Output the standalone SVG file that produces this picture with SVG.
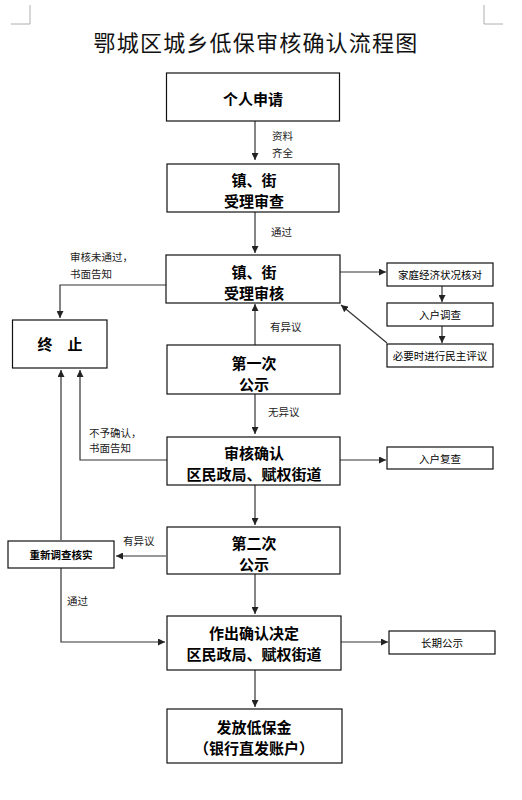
<svg xmlns="http://www.w3.org/2000/svg" width="522" height="800" viewBox="0 0 522 800">
<defs>
<marker id="ah" viewBox="0 0 10 10" refX="10" refY="5" markerWidth="7" markerHeight="7" markerUnits="userSpaceOnUse" orient="auto">
<path d="M0,0 L10,5 L0,10 z" fill="#222"/>
</marker>
<style>
.box{fill:#fff;stroke:#111;stroke-width:1.2}
.bt{font-family:"Noto Sans CJK SC","Noto Sans",sans-serif;font-weight:bold;font-size:15px;fill:#000;text-anchor:middle;dominant-baseline:central}
.st{font-family:"Noto Sans CJK SC","Noto Sans",sans-serif;font-size:10.5px;fill:#000;text-anchor:middle;dominant-baseline:central}
.lb{font-family:"Noto Sans CJK SC","Noto Sans",sans-serif;font-size:10.5px;fill:#222;dominant-baseline:central}
.cn{fill:none;stroke:#333;stroke-width:1.2;marker-end:url(#ah)}
.crop{fill:none;stroke:#999;stroke-width:0.8}
</style>
</defs>
<rect width="522" height="800" fill="#fff"/>
<g id="cropmarks">
<path class="crop" d="M30,5 V24 H11"/>
<path class="crop" d="M484,5 V24 H503"/>
</g>
<text id="title" x="256" y="41" style="font-family:'Noto Sans CJK SC',sans-serif;font-size:22px;fill:#111;text-anchor:middle;dominant-baseline:central;letter-spacing:1.2px">鄂城区城乡低保审核确认流程图</text>

<g id="connectors">
<path class="cn" d="M255,121 V160"/>
<path class="cn" d="M255,212 V253"/>
<path class="cn" d="M340,272 H386"/>
<path class="cn" d="M442,286 V302"/>
<path class="cn" d="M442,326 V343"/>
<path class="cn" d="M387,343 L341,305"/>
<path class="cn" d="M166,285 H60 V318"/>
<path class="cn" d="M255,345 V304"/>
<path class="cn" d="M255,394 V434"/>
<path class="cn" d="M167,460 H80 V370"/>
<path class="cn" d="M61,540 V370"/>
<path class="cn" d="M340,460 H386"/>
<path class="cn" d="M255,485 V525"/>
<path class="cn" d="M166,556 H116"/>
<path class="cn" d="M61,568 V642 H165"/>
<path class="cn" d="M255,574 V614"/>
<path class="cn" d="M341,642 H388"/>
<path class="cn" d="M255,670 V707"/>
<text class="lb" x="272" y="135">资料</text>
<text class="lb" x="272" y="152">齐全</text>
<text class="lb" x="271" y="231">通过</text>
<text class="lb" x="70" y="256">审核未通过，</text>
<text class="lb" x="70" y="273">书面告知</text>
<text class="lb" x="270" y="326">有异议</text>
<text class="lb" x="268" y="411">无异议</text>
<text class="lb" x="89" y="432">不予确认，</text>
<text class="lb" x="89" y="447">书面告知</text>
<text class="lb" x="123" y="540">有异议</text>
<text class="lb" x="67" y="600">通过</text>
</g>

<g id="n1"><rect class="box" x="166.5" y="73" width="173" height="48"/><text class="bt" x="253" y="98">个人申请</text></g>
<g id="n2"><rect class="box" x="167" y="164" width="172" height="48"/><text class="bt" x="254" y="179">镇、街</text><text class="bt" x="254" y="200">受理审查</text></g>
<g id="n3"><rect class="box" x="166" y="255" width="174" height="48"/><text class="bt" x="254" y="271">镇、街</text><text class="bt" x="254" y="292">受理审核</text></g>
<g id="r1"><rect class="box" x="387" y="263" width="106" height="23"/><text class="st" x="440" y="274.5">家庭经济状况核对</text></g>
<g id="r2"><rect class="box" x="387" y="303" width="106" height="23"/><text class="st" x="440" y="314.5">入户调查</text></g>
<g id="r3"><rect class="box" x="387" y="344" width="106" height="23"/><text class="st" x="440" y="355.5">必要时进行民主评议</text></g>
<g id="stop"><rect class="box" x="12.5" y="320" width="94.5" height="48"/><text class="bt" x="60" y="343">终　止</text></g>
<g id="n4"><rect class="box" x="167" y="345" width="173" height="49"/><text class="bt" x="254" y="362">第一次</text><text class="bt" x="254" y="383">公示</text></g>
<g id="n5"><rect class="box" x="167" y="437" width="173" height="48"/><text class="bt" x="254" y="452">审核确认</text><text class="bt" x="254" y="473">区民政局、赋权街道</text></g>
<g id="r4"><rect class="box" x="387" y="447" width="106" height="22"/><text class="st" x="440" y="458">入户复查</text></g>
<g id="n6"><rect class="box" x="167" y="527" width="173" height="47"/><text class="bt" x="254" y="542">第二次</text><text class="bt" x="254" y="563">公示</text></g>
<g id="recheck"><rect class="box" x="8" y="541" width="106" height="27"/><text class="st" x="61" y="554.5" font-weight="bold">重新调查核实</text></g>
<g id="n7"><rect class="box" x="167" y="616" width="174" height="54"/><text class="bt" x="254" y="632">作出确认决定</text><text class="bt" x="254" y="653">区民政局、赋权街道</text></g>
<g id="r5"><rect class="box" x="389" y="631" width="106" height="23"/><text class="st" x="442" y="642.5">长期公示</text></g>
<g id="n8"><rect class="box" x="167" y="709" width="175" height="54"/><text class="bt" x="254" y="726">发放低保金</text><text class="bt" x="254" y="747">（银行直发账户）</text></g>
</svg>
